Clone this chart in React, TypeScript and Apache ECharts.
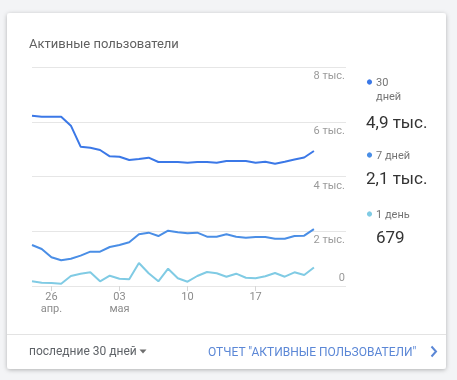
import React, { useEffect, useRef } from "react";
import * as echarts from "echarts";

const categories = [
  "24.04", "25.04", "26.04", "27.04", "28.04", "29.04", "30.04", "01.05", "02.05", "03.05",
  "04.05", "05.05", "06.05", "07.05", "08.05", "09.05", "10.05", "11.05", "12.05", "13.05",
  "14.05", "15.05", "16.05", "17.05", "18.05", "19.05", "20.05", "21.05", "22.05", "23.05",
];
const users30 = [6221, 6185, 6185, 6185, 5856, 5089, 5052, 4968, 4738, 4724, 4603, 4640, 4687, 4530, 4530, 4530, 4505, 4530, 4530, 4505, 4566, 4566, 4566, 4505, 4542, 4469, 4542, 4621, 4694, 4931];
const users7 = [1498, 1352, 1048, 938, 998, 1108, 1254, 1254, 1425, 1498, 1595, 1887, 1948, 1826, 2021, 1960, 1923, 1948, 1801, 1801, 1887, 1801, 1765, 1790, 1790, 1729, 1729, 1826, 1840, 2080];
const users1 = [170, 122, 110, 85, 365, 450, 500, 170, 376, 267, 245, 840, 464, 170, 632, 281, 157, 365, 511, 464, 340, 450, 303, 281, 354, 475, 340, 500, 400, 679];
const tickIndices = [2, 9, 16, 23];
const tickLabels = ["26\nапр.", "03\nмая", "10", "17"];
const yTicks = [0, 2000, 4000, 6000, 8000];
const legendNames = ["30\nдней", "7 дней", "1 день"];
const legendValues = ["4,9 тыс.", "2,1 тыс.", "679"];
const seriesColors = ["#3b78e7", "#4a8ee6", "#80cbe4"];

const FONT = "Roboto, 'Noto Sans', sans-serif";

export default function App() {
  const ref = useRef<HTMLDivElement>(null);
  useEffect(() => {
    if (!ref.current) return;
    const chart = echarts.init(ref.current, undefined, { renderer: "svg" });
    const pairs = (arr: number[]) => arr.map((v, i) => [i, v]);
    const legendY = [82, 155, 214];
    const valueY = [122, 178, 237];
    const graphics: any[] = [
      { type: "rect", z: -10, shape: { x: 0, y: 0, width: 457, height: 380 }, style: { fill: "#f3f4f6" }, silent: true },
      {
        type: "rect", z: -9, shape: { x: 7, y: 13, width: 439, height: 356, r: 3 },
        style: { fill: "#ffffff", shadowBlur: 4, shadowOffsetY: 1, shadowColor: "rgba(0,0,0,0.28)" }, silent: true,
      },
      { type: "line", z: -8, shape: { x1: 7, y1: 334.5, x2: 446, y2: 334.5 }, style: { stroke: "#e3e3e3", lineWidth: 1 } },
      {
        type: "text", x: 29, y: 43,
        style: { text: "Активные пользователи", fill: "#616161", font: `13px ${FONT}`, verticalAlign: "middle" },
      },
      {
        type: "text", x: 29, y: 351,
        style: { text: "последние 30 дней", fill: "#5f6368", font: `12px ${FONT}`, verticalAlign: "middle" },
      },
      { type: "polygon", shape: { points: [[139.5, 349.5], [146.5, 349.5], [143, 353.5]] }, style: { fill: "#6f6f6f" } },
      {
        type: "text", x: 208, y: 352,
        style: { text: 'ОТЧЕТ "АКТИВНЫЕ ПОЛЬЗОВАТЕЛИ"', fill: "#5b87d6", font: `12px ${FONT}`, verticalAlign: "middle" },
      },
      {
        type: "polyline", shape: { points: [[431.5, 346.5], [436, 351.5], [431.5, 356.5]] },
        style: { stroke: "#5b87d6", lineWidth: 2, fill: "none" },
      },
    ];
    legendNames.forEach((name, k) => {
      graphics.push({ type: "circle", shape: { cx: 369.5, cy: legendY[k], r: 2.6 }, style: { fill: seriesColors[k] } });
      graphics.push({
        type: "text", x: 376, y: legendY[k] - 7,
        style: { text: name, fill: "#757575", font: `11px ${FONT}`, lineHeight: 14, verticalAlign: "top" },
      });
      graphics.push({
        type: "text", x: k === 2 ? 376 : 366, y: valueY[k],
        style: { text: legendValues[k], fill: "#333333", font: `17px ${FONT}`, verticalAlign: "middle" },
      });
    });

    chart.setOption({
      animation: false,
      textStyle: { fontFamily: FONT },
      grid: { left: 32, right: 111, top: 67, bottom: 94, containLabel: false },
      xAxis: {
        type: "value",
        min: 0,
        max: 32.3,
        axisLine: { show: false },
        splitLine: { show: false },
        axisTick: { show: true, customValues: tickIndices, length: 5, lineStyle: { color: "#d6d6d6" } },
        axisLabel: {
          customValues: tickIndices,
          formatter: (v: number) => tickLabels[tickIndices.indexOf(Math.round(v))] ?? "",
          color: "#8c8c8c",
          fontSize: 11,
          lineHeight: 12,
          margin: 4,
        },
      },
      yAxis: {
        type: "value",
        position: "right",
        min: yTicks[0],
        max: yTicks[yTicks.length - 1],
        interval: 2000,
        axisLine: { show: false },
        axisTick: { show: false },
        splitLine: { show: true, lineStyle: { color: "#e6e6e6", width: 1 } },
        axisLabel: {
          inside: true,
          margin: 1,
          color: "#9a9a9a",
          fontSize: 11,
          verticalAlign: "top",
          verticalAlignMinLabel: "bottom",
          padding: [3, 0, 3, 0],
          formatter: (v: number) => (v === 0 ? "0" : `${v / 1000} тыс.`),
        },
      },
      series: [
        { name: "30 дней", type: "line", data: pairs(users30), showSymbol: false, lineStyle: { width: 2, color: seriesColors[0] }, itemStyle: { color: seriesColors[0] } },
        { name: "7 дней", type: "line", data: pairs(users7), showSymbol: false, lineStyle: { width: 2, color: seriesColors[1] }, itemStyle: { color: seriesColors[1] } },
        { name: "1 день", type: "line", data: pairs(users1), showSymbol: false, lineStyle: { width: 2, color: seriesColors[2] }, itemStyle: { color: seriesColors[2] } },
      ],
      graphic: graphics,
    });
    return () => chart.dispose();
  }, []);
  return <div ref={ref} style={{ position: "fixed", left: 0, top: 0, width: 457, height: 380 }} />;
}
